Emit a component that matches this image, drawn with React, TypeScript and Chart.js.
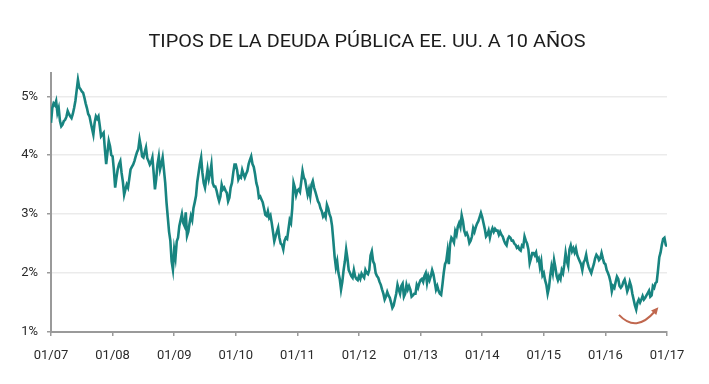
import React, { useEffect, useRef } from "react";
import { Chart, registerables } from "chart.js";

Chart.register(...registerables);

const TITLE = "TIPOS DE LA DEUDA PÚBLICA EE. UU. A 10 AÑOS";
const startYears = [2007, 2008, 2009, 2010, 2011, 2012, 2013, 2014, 2015, 2016];
const xTickYears = [2007, 2008, 2009, 2010, 2011, 2012, 2013, 2014, 2015, 2016, 2017];
const yTickValues = [1, 2, 3, 4, 5];

// weekly-ish readings (4 per month), in %
const y2007 = [4.55,4.80,4.88,4.85, 4.92,4.72,4.80,4.58, 4.49,4.52,4.58,4.60, 4.65,4.75,4.70,4.66, 4.63,4.70,4.80,4.92, 5.10,5.28,5.15,5.12, 5.08,5.06,4.98,4.88, 4.80,4.70,4.66,4.55, 4.45,4.35,4.55,4.66, 4.62,4.66,4.50,4.32, 4.35,4.38,4.10,3.85, 4.05,4.24,4.15,4.00];
const y2008 = [3.98,3.75,3.45,3.62, 3.76,3.85,3.90,3.70, 3.55,3.33,3.42,3.50, 3.45,3.60,3.76,3.80, 3.84,3.90,3.98,4.05, 4.10,4.27,4.15,3.98, 3.96,4.05,4.13,3.95, 3.90,3.84,3.88,3.96, 3.70,3.42,3.60,3.85, 3.98,3.76,3.85,3.96, 3.75,3.53,3.20,2.95, 2.70,2.55,2.20,2.06];
const y2009 = [2.40,2.26,2.54,2.60, 2.80,2.90,3.00,2.85, 2.80,3.03,2.63,2.70, 2.85,2.97,2.90,3.10, 3.20,3.31,3.55,3.70, 3.85,3.96,3.70,3.53, 3.45,3.60,3.76,3.60, 3.70,3.84,3.53,3.47, 3.47,3.40,3.30,3.22, 3.30,3.50,3.42,3.45, 3.40,3.36,3.22,3.28, 3.45,3.53,3.70,3.84];
const y2010 = [3.84,3.75,3.59,3.64, 3.62,3.75,3.68,3.62, 3.68,3.73,3.85,3.92, 3.98,3.85,3.80,3.68, 3.53,3.45,3.28,3.30, 3.25,3.20,3.10,2.99, 2.97,3.05,2.94,2.98, 2.85,2.70,2.54,2.62, 2.70,2.77,2.60,2.50, 2.48,2.40,2.55,2.60, 2.58,2.74,2.90,2.85, 3.10,3.53,3.45,3.32];
const y2011 = [3.40,3.42,3.38,3.55, 3.73,3.62,3.58,3.45, 3.33,3.42,3.30,3.50, 3.56,3.45,3.38,3.30, 3.22,3.18,3.10,3.05, 2.96,3.00,2.95,3.16, 3.10,3.00,2.94,2.80, 2.55,2.28,2.10,2.20, 2.00,1.90,1.72,1.85, 2.05,2.20,2.40,2.25, 2.05,2.00,1.95,1.92, 2.05,1.94,1.90,1.88];
const y2012 = [1.95,1.90,1.99,1.95, 1.92,2.05,2.00,1.98, 2.05,2.30,2.37,2.20, 2.15,2.00,1.95,1.92, 1.85,1.80,1.72,1.65, 1.55,1.60,1.68,1.62, 1.58,1.50,1.41,1.45, 1.55,1.65,1.80,1.72, 1.65,1.78,1.82,1.60, 1.65,1.80,1.72,1.78, 1.72,1.60,1.62,1.65, 1.65,1.80,1.75,1.83];
const y2013 = [1.88,1.90,1.85,1.95, 2.00,1.83,1.95,1.88, 1.95,2.05,1.98,1.85, 1.72,1.78,1.70,1.65, 1.63,1.80,2.00,2.15, 2.20,2.37,2.15,2.50, 2.60,2.57,2.52,2.71, 2.65,2.79,2.85,2.78, 2.98,2.88,2.72,2.65, 2.68,2.62,2.51,2.55, 2.62,2.76,2.70,2.78, 2.84,2.88,2.95,3.02];
const y2014 = [2.95,2.85,2.75,2.62, 2.65,2.72,2.60,2.70, 2.76,2.70,2.75,2.72, 2.72,2.65,2.70,2.65, 2.62,2.55,2.50,2.47, 2.58,2.62,2.60,2.55, 2.55,2.50,2.48,2.43, 2.45,2.40,2.38,2.47, 2.45,2.62,2.55,2.50, 2.40,2.17,2.25,2.34, 2.34,2.30,2.35,2.22, 2.25,2.10,2.20,1.96];
const y2015 = [2.00,1.88,1.80,1.65, 1.75,1.95,2.11,2.00, 2.22,2.10,1.95,1.88, 1.95,1.90,2.05,2.00, 2.15,2.34,2.20,2.12, 2.40,2.47,2.37,2.42, 2.35,2.42,2.31,2.25, 2.20,2.15,2.05,2.18, 2.22,2.31,2.18,2.10, 2.05,2.00,2.08,2.15, 2.25,2.31,2.28,2.22, 2.25,2.34,2.25,2.17];
const y2016 = [2.15,2.05,2.00,1.94, 1.85,1.69,1.78,1.75, 1.85,1.94,1.90,1.78, 1.75,1.78,1.85,1.89, 1.80,1.69,1.75,1.85, 1.78,1.65,1.55,1.45, 1.38,1.50,1.55,1.50, 1.55,1.61,1.55,1.58, 1.62,1.66,1.70,1.60, 1.62,1.78,1.75,1.83, 1.85,2.05,2.27,2.35, 2.48,2.58,2.60,2.48];
const lastPoint = { x: 2017, y: 2.45 };

// arrow annotation (data coordinates)
const arrowStart = { x: 2016.22, y: 1.29 };
const arrowControl = { x: 2016.5, y: 0.98 };
const arrowEnd = { x: 2016.86, y: 1.42 };

const yieldsByYear = [y2007, y2008, y2009, y2010, y2011, y2012, y2013, y2014, y2015, y2016];

const TICK_FONT = { family: "Roboto", size: 13 };

const titlePlugin = {
  id: "customTitle",
  afterDraw(chart: any) {
    const ctx = chart.ctx;
    ctx.save();
    ctx.font = "400 17.5px Roboto";
    const w = ctx.measureText(TITLE).width;
    const sx = 437 / w;
    ctx.translate(359, 38.8);
    ctx.scale(sx, 1);
    ctx.fillStyle = "#1c1c1c";
    ctx.textAlign = "center";
    ctx.textBaseline = "alphabetic";
    ctx.fillText(TITLE, 0, 0);
    ctx.restore();
  },
};

const arrowPlugin = {
  id: "arrow",
  afterDatasetsDraw(chart: any) {
    const { ctx, scales } = chart;
    const px = (p: any) => ({ x: scales.x.getPixelForValue(p.x), y: scales.y.getPixelForValue(p.y) });
    const s = px(arrowStart), c = px(arrowControl), e = px(arrowEnd);
    const ang = Math.atan2(e.y - c.y, e.x - c.x);
    const headLen = 8;
    const lineEnd = { x: e.x - Math.cos(ang) * headLen * 0.7, y: e.y - Math.sin(ang) * headLen * 0.7 };
    ctx.save();
    ctx.strokeStyle = "#c0674e";
    ctx.fillStyle = "#c0674e";
    ctx.lineWidth = 2;
    ctx.beginPath();
    ctx.moveTo(s.x, s.y);
    ctx.quadraticCurveTo(c.x, c.y, lineEnd.x, lineEnd.y);
    ctx.stroke();
    ctx.beginPath();
    ctx.moveTo(e.x, e.y);
    ctx.lineTo(e.x - Math.cos(ang - 0.45) * headLen, e.y - Math.sin(ang - 0.45) * headLen);
    ctx.lineTo(e.x - Math.cos(ang + 0.45) * headLen, e.y - Math.sin(ang + 0.45) * headLen);
    ctx.closePath();
    ctx.fill();
    ctx.restore();
  },
};

export default function App() {
  const ref = useRef<HTMLCanvasElement | null>(null);

  useEffect(() => {
    if (!ref.current) return;
    const points: { x: number; y: number }[] = [];
    yieldsByYear.forEach((arr, yi) => {
      arr.forEach((v, i) => points.push({ x: startYears[yi] + i / arr.length, y: v }));
    });
    points.push(lastPoint);

    const chart = new Chart(ref.current, {
      type: "line",
      data: {
        datasets: [
          {
            data: points,
            borderColor: "#188480",
            borderWidth: 2.6,
            pointRadius: 0,
            tension: 0,
            fill: false,
          },
        ],
      },
      options: {
        responsive: false,
        animation: false,
        layout: { padding: { top: 64.7, right: 34, left: 0, bottom: 0 } },
        plugins: {
          legend: { display: false },
          tooltip: { enabled: false },
          title: { display: false },
        },
        scales: {
          x: {
            type: "linear",
            min: 2007,
            max: 2017,
            afterBuildTicks: (s: any) => {
              s.ticks = xTickYears.map((v) => ({ value: v }));
            },
            afterFit: (s: any) => {
              s.height = 44;
            },
            ticks: {
              callback: (v: any) => "01/" + String(v).slice(2),
              font: TICK_FONT,
              color: "#2a2a2a",
              padding: 12,
              maxRotation: 0,
              autoSkip: false,
            },
            grid: { drawOnChartArea: false, tickLength: 4, color: "#9a9a9a", lineWidth: 1.5 },
            border: { color: "#9a9a9a", width: 2 },
          },
          y: {
            min: 1,
            max: 5.4,
            afterBuildTicks: (s: any) => {
              s.ticks = yTickValues.map((v) => ({ value: v }));
            },
            afterFit: (s: any) => {
              s.width = 43;
            },
            ticks: {
              callback: (v: any) => v + "%",
              font: TICK_FONT,
              color: "#2a2a2a",
              padding: 9,
            },
            grid: { color: "#ebebeb", lineWidth: 1.5, tickColor: "#9a9a9a", tickLength: 4 },
            border: { color: "#9a9a9a", width: 2 },
          },
        },
      },
      plugins: [titlePlugin, arrowPlugin],
    });
    return () => chart.destroy();
  }, []);

  return <canvas ref={ref} width={693} height={368} style={{ display: "block" }} />;
}
